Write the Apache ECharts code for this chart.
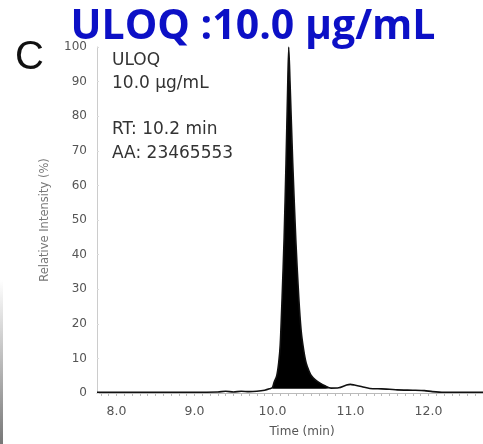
<!DOCTYPE html>
<html>
<head>
<meta charset="utf-8">
<script src="https://cdn.jsdelivr.net/npm/echarts@6/dist/echarts.min.js"></script>
<style>
  html, body { margin: 0; padding: 0; background: #fff; }
  #chart { width: 483px; height: 444px; }
</style>
</head>
<body>
<div id="chart"></div>
<script>
// chromatogram trace
var time = [7.75, 8.0, 8.5, 9.0, 9.3, 9.4, 9.5, 9.6, 9.7, 9.8, 9.9, 9.96,
  10.0, 10.02, 10.055, 10.08, 10.1, 10.124, 10.15, 10.174, 10.195, 10.209,
  10.225, 10.26, 10.3, 10.337, 10.368, 10.4, 10.432, 10.47, 10.5, 10.55,
  10.6, 10.68, 10.75,
  10.85, 10.95, 11.0, 11.05, 11.15, 11.25, 11.4, 11.5, 11.6, 11.8, 11.95,
  12.05, 12.2, 12.7];
var intensity = [0.2, 0.2, 0.2, 0.2, 0.3, 0.5, 0.3, 0.5, 0.4, 0.5, 0.8, 1.2,
  1.6, 3, 5, 8.7, 14, 27.7, 45, 66.5, 88, 100,
  90, 66.5, 44, 27.7, 18, 12.5, 8.7, 6.3, 5, 3.8,
  3, 2, 1.4,
  1.5, 2.3, 2.5, 2.3, 1.8, 1.3, 1.2, 1.1, 0.9, 0.8, 0.7,
  0.4, 0.2, 0.2];
// integrated peak region (filled black)
var peakStart = 10.0;
var peakEnd = 10.75;
var peakBase = 1.2;

var xTicks = [8, 9, 10, 11, 12];
var yTicks = [0, 10, 20, 30, 40, 50, 60, 70, 80, 90, 100];

var trace = time.map(function (t, i) { return [t, intensity[i]]; });
var peak = trace.filter(function (p) { return p[0] >= peakStart && p[0] <= peakEnd; });

var minorX = [];
for (var v = 78; v <= 126; v++) minorX.push(v / 10);

var myChart = echarts.init(document.getElementById('chart'));

myChart.setOption({
  animation: false,
  grid: { left: 97, right: 0, top: 47, bottom: 51 },
  xAxis: {
    type: 'value',
    min: 7.75,
    max: 12.7,
    name: 'Time (min)',
    nameLocation: 'middle',
    nameGap: 33,
    nameTextStyle: { color: '#555', fontSize: 12, fontFamily: 'DejaVu Sans', padding: [0, 0, 0, 24] },
    axisLine: { lineStyle: { color: '#bbb', width: 1 } },
    axisTick: { show: true, customValues: minorX, length: 3, lineStyle: { color: '#bbb' } },
    axisLabel: {
      customValues: xTicks,
      color: '#555',
      fontSize: 12.5,
      fontFamily: 'DejaVu Sans',
      margin: 12,
      formatter: function (val) { return val.toFixed(1); }
    },
    splitLine: { show: false }
  },
  yAxis: {
    type: 'value',
    min: 0,
    max: 100,
    interval: 10,
    name: 'Relative Intensity (%)',
    nameLocation: 'middle',
    nameGap: 46,
    nameTextStyle: { color: '#777', fontSize: 11.5, fontFamily: 'DejaVu Sans' },
    axisLine: { show: true, lineStyle: { color: '#ccc', width: 1 } },
    axisTick: { show: true, inside: true, length: 2, lineStyle: { color: '#ddd' } },
    axisLabel: {
      customValues: yTicks,
      color: '#555',
      fontSize: 12,
      fontFamily: 'DejaVu Sans',
      margin: 10
    },
    splitLine: { show: false }
  },
  series: [
    {
      type: 'line',
      data: peak,
      symbol: 'none',
      smooth: 0.25,
      lineStyle: { width: 0 },
      areaStyle: { color: '#000', opacity: 1, origin: peakBase },
      z: 2
    },
    {
      type: 'line',
      data: trace,
      symbol: 'none',
      smooth: 0.25,
      lineStyle: { color: '#111', width: 1.6 },
      z: 3
    }
  ],
  graphic: [
    {
      type: 'text', left: 15, top: 38,
      style: { text: 'C', fontSize: 40, fontFamily: 'Liberation Sans', fill: '#111' }
    },
    {
      type: 'text', x: 253, y: 27,
      style: {
        text: 'ULOQ :10.0 \u00b5g/mL', fontSize: 41, fontWeight: 'bold',
        fontFamily: 'Open Sans', fill: '#0c10c6', align: 'center', verticalAlign: 'middle'
      }
    },
    {
      type: 'text', x: 112, y: 61,
      style: { text: 'ULOQ', fontSize: 17, fontFamily: 'DejaVu Sans', fill: '#333', verticalAlign: 'middle' }
    },
    {
      type: 'text', x: 112, y: 84,
      style: { text: '10.0 \u00b5g/mL', fontSize: 17, fontFamily: 'DejaVu Sans', fill: '#333', verticalAlign: 'middle' }
    },
    {
      type: 'text', x: 112, y: 130,
      style: { text: 'RT: 10.2 min', fontSize: 17, fontFamily: 'DejaVu Sans', fill: '#333', verticalAlign: 'middle' }
    },
    {
      type: 'text', x: 112, y: 154,
      style: { text: 'AA: 23465553', fontSize: 17, fontFamily: 'DejaVu Sans', fill: '#333', verticalAlign: 'middle' }
    },
    {
      type: 'rect', left: 0, top: 280,
      shape: { width: 3, height: 164 },
      style: {
        fill: new echarts.graphic.LinearGradient(0, 0, 0, 1, [
          { offset: 0, color: '#ffffff' },
          { offset: 1, color: '#777777' }
        ])
      }
    }
  ]
});
</script>
</body>
</html>
